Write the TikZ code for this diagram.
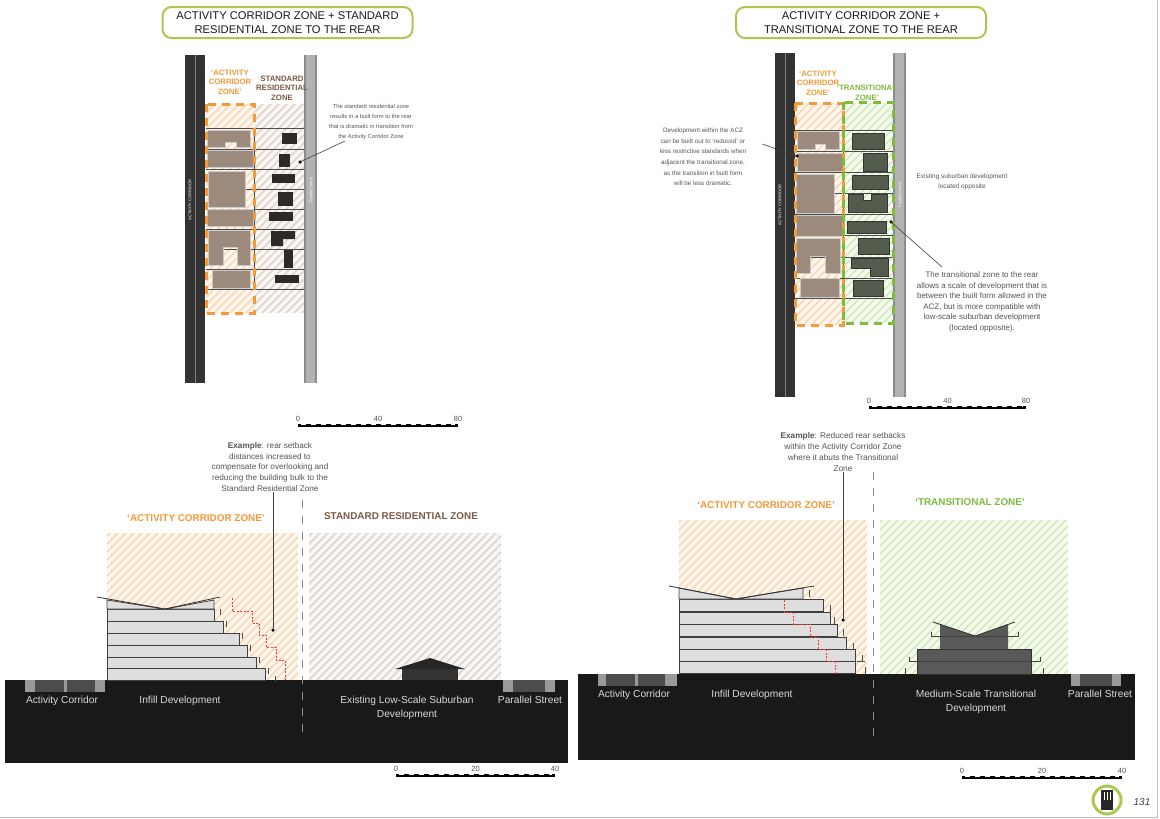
\documentclass[tikz,border=0pt]{standalone}
\usepackage{fontspec}
\setmainfont{Liberation Sans}
\definecolor{ora}{HTML}{F39A3A}
\definecolor{orah}{HTML}{F9D2AA}
\definecolor{orabg}{HTML}{FEF5EC}
\definecolor{grh}{HTML}{D8CEC6}
\definecolor{grbg}{HTML}{F8F5F2}
\definecolor{grn}{HTML}{7DBB3C}
\definecolor{grnh}{HTML}{CDE6B0}
\definecolor{grnbg}{HTML}{F5FAEF}
\definecolor{titleg}{HTML}{A9C84E}
\definecolor{brn}{HTML}{7B5A45}
\definecolor{bldg}{HTML}{9C8B7C}
\definecolor{dkb}{HTML}{2E2A28}
\definecolor{gbld}{HTML}{535B4C}
\definecolor{txt}{HTML}{555555}
\newcommand\hatchrect[6]{%
\begin{scope}
\clip (#1,#2) rectangle (#3,#4);
\fill[#6] (#1,#2) rectangle (#3,#4);
\foreach \k in {-400,-392,...,400} \draw[#5,line width=1.3pt] (#1+\k,#4) -- ++(450,-450);
\end{scope}}
\newcommand\scalebar[5]{% x1 x2 y lab-mid lab-end
\draw[line width=3pt] (#1,#3) -- (#2,#3);
\draw[white,line width=1pt,dash pattern=on 5pt off 5pt] (#1+3,#3-0.8) -- (#2-3,#3-0.8);
\node[lab,anchor=south] at (#1,#3-2) {0};
\node[lab,anchor=south] at ({(#1+#2)/2},#3-2) {#4};
\node[lab,anchor=south] at (#2,#3-2) {#5};}
\tikzset{
 lab/.style={font=\fontsize{7.5}{8}\selectfont,text=txt,inner sep=1pt},
 ann/.style={font=\fontsize{6.5}{10.6}\selectfont,text=txt,align=center,inner sep=0pt},
 zonelab/.style={font=\bfseries\fontsize{7.8}{9.5}\selectfont,align=center,inner sep=0pt},
 seclab/.style={font=\bfseries\fontsize{9.9}{10}\selectfont,inner sep=0pt},
 groundlab/.style={font=\fontsize{10.2}{14}\selectfont,text=white!85!black,align=center,inner sep=0pt},
 titlebox/.style={draw=titleg,line width=2pt,rounded corners=9pt,fill=white,align=center,font=\fontsize{11.2}{13.5}\selectfont,text=black!90,minimum width=250pt,minimum height=31pt},
 ozone/.style={draw=ora,line width=3pt,dash pattern=on 8pt off 6pt},
 gzone/.style={draw=grn,line width=3pt,dash pattern=on 8pt off 6pt},
 lotline/.style={draw=black!70,line width=0.8pt},
 leader/.style={draw=black!75,line width=0.6pt},
 dotc/.style={circle,fill=black,inner sep=0pt,minimum size=3.5pt},
 floor/.style={fill=black!13,draw=black!75,line width=0.8pt},
 secdash/.style={draw=black!45,line width=1pt,dash pattern=on 8pt off 8pt},
 redstep/.style={draw=red!80,line width=0.7pt,dash pattern=on 2pt off 1.5pt},
}
\begin{document}
\begin{tikzpicture}[x=1pt,y=-1pt]
\useasboundingbox (0,0) rectangle (1160,819);
\fill[white] (0,0) rectangle (1160,819);
\draw[black!25] (0,817) -- (1157,817) -- (1157,0);

%================ LEFT PLAN
\node[titlebox] (t1) at (287.5,22.5) {ACTIVITY CORRIDOR ZONE + STANDARD\\RESIDENTIAL ZONE TO THE REAR};
\hatchrect{206}{104}{254}{313}{orah}{orabg}
\hatchrect{254}{104}{304}{313}{grh}{grbg}
\fill[black!80] (185,55) rectangle (205,383);
\draw[black!50,line width=0.5pt] (195,55) -- (195,383);
\node[rotate=90,font=\fontsize{4}{4}\selectfont,text=white] (acl) at (190,200) {ACTIVITY CORRIDOR};
\fill[black!45] (304,55) rectangle (317,383);
\fill[black!30] (306,55) rectangle (315,383);
\node[rotate=90,font=\fontsize{4}{4}\selectfont,text=white] (psl) at (311,190) {Parallel Street};
\foreach \y in {128,149,169,189,209,229,249,269,289} \draw[lotline] (206,\y) -- (304,\y);
\draw[lotline] (254,128) -- (254,289);
\begin{scope}[fill=bldg,draw=black!20,line width=0.4pt]
\filldraw (207,130) -- (250,130) -- (250,147) -- (236,147) -- (236,142) -- (225,142) -- (225,147) -- (207,147) -- cycle;
\filldraw (207,150) rectangle (253,167);
\filldraw (208,171) rectangle (245,207);
\filldraw (207,209) rectangle (253,226);
\filldraw (208,230) -- (250,230) -- (250,265) -- (237,265) -- (237,247) -- (223,247) -- (223,265) -- (208,265) -- cycle;
\filldraw (212,270) rectangle (250,288);
\end{scope}
\begin{scope}[fill=dkb]
\fill (282,133) rectangle (297,144);
\fill (279,154) rectangle (290,167);
\fill (272,174) rectangle (295,183);
\fill (278,192) rectangle (293,206);
\fill (269,212) rectangle (293,221);
\fill (271,231) -- (295,231) -- (295,239) -- (283,239) -- (283,246) -- (271,246) -- cycle;
\fill (284,250) rectangle (293,268);
\fill (275,275) rectangle (299,283);
\end{scope}
\draw[ozone] (206,104) rectangle (254,313);
\node[zonelab,text=ora] (l1a) at (230,82) {‘ACTIVITY\\CORRIDOR\\ZONE’};
\node[zonelab,text=brn] (l1b) at (282,88) {STANDARD\\RESIDENTIAL\\ZONE};
\node[ann,font=\fontsize{5.8}{10.2}\selectfont] (a1) at (371,122) {The standard residential zone\\results in a built form to the rear\\that is dramatic in transition from\\the Activity Corridor Zone};
\node[dotc] (d1) at (300,162) {};
\draw[leader] (345,141) -- (d1.center);
\scalebar{298}{458}{425}{40}{80}

%================ RIGHT PLAN
\node[titlebox] (t2) at (861,22.5) {ACTIVITY CORRIDOR ZONE +\\TRANSITIONAL ZONE TO THE REAR};
\hatchrect{795}{103}{843}{325}{orah}{orabg}
\hatchrect{843}{103}{893}{323}{grnh}{grnbg}
\fill[black!80] (775,53) rectangle (795,397);
\draw[black!50,line width=0.5pt] (785,53) -- (785,397);
\node[rotate=90,font=\fontsize{4}{4}\selectfont,text=white] (acr) at (780,205) {ACTIVITY CORRIDOR};
\fill[black!45] (893,53) rectangle (906,397);
\fill[black!30] (895,53) rectangle (904,397);
\node[rotate=90,font=\fontsize{4}{4}\selectfont,text=white] (psr) at (900,195) {Parallel Street};
\foreach \y in {130,151,172,193,214,235,257,278,298} \draw[lotline] (795,\y) -- (893,\y);
\draw[lotline] (843,130) -- (843,298);
\begin{scope}[fill=bldg,draw=black!20,line width=0.4pt]
\filldraw (797,131) -- (839,131) -- (839,149) -- (825,149) -- (825,144) -- (815,144) -- (815,149) -- (797,149) -- cycle;
\filldraw (797,153) rectangle (843,171);
\filldraw (796,174) rectangle (834,213);
\filldraw (796,215) rectangle (842,236);
\filldraw (796,238) -- (840,238) -- (840,273) -- (825,273) -- (825,256) -- (810,256) -- (810,273) -- (796,273) -- cycle;
\filldraw (800,278) rectangle (839,297);
\end{scope}
\begin{scope}[fill=gbld,draw=black!80,line width=0.5pt]
\filldraw (852,133) rectangle (884,149);
\filldraw (863,153) rectangle (887,171);
\filldraw (852,175) rectangle (888,189);
\filldraw (848,194) -- (863,194) -- (863,200) -- (871,200) -- (871,194) -- (887,194) -- (887,212) -- (848,212) -- cycle;
\filldraw (847,221) rectangle (886,233);
\filldraw (858,238) rectangle (889,254);
\filldraw (851,258) -- (888,258) -- (888,276) -- (870,276) -- (870,268) -- (851,268) -- cycle;
\filldraw (853,280) rectangle (883,296);
\end{scope}
\draw[ozone] (795,103) rectangle (843,325);
\draw[gzone] (843,102) rectangle (893,323);
\node[zonelab,text=ora] (r1a) at (818,83) {‘ACTIVITY\\CORRIDOR\\ZONE’};
\node[zonelab,text=grn] (r1b) at (867,93) {‘TRANSITIONAL\\ZONE’};
\node[ann,font=\fontsize{6.3}{10.6}\selectfont] (a2) at (703,157) {Development within the ACZ\\can be built out to ‘reduced’ or\\less restrictive standards when\\adjacent the transitional zone,\\as the transition in built form\\will be less dramatic.};
\node[dotc] (d2) at (797,156) {};
\draw[leader] (762,144) -- (d2.center);
\node[ann] (a3) at (962,182) {Existing suburban development\\located opposite};
\node[ann,font=\fontsize{8}{10.6}\selectfont] (a4) at (982,302) {The transitional zone to the rear\\allows a scale of development that is\\between the built form allowed in the\\ACZ, but is more compatible with\\low-scale suburban development\\(located opposite).};
\node[dotc] (d3) at (891,222) {};
\draw[leader] (942,267) -- (d3.center);
\scalebar{869}{1026}{407}{40}{80}

%================ LEFT SECTION
\hatchrect{107}{533}{298}{680}{orah}{orabg}
\hatchrect{309}{533}{501}{680}{grh}{grbg}
\fill[black!90] (5,680) rectangle (568,763);
\draw[secdash] (302,500) -- (302,740);
\foreach \t/\r in {609/214,621/223,633/239,645/247,657/256,668/265}
  \draw[floor] (107,\t) rectangle (\r,\t+12);
\draw[floor] (107,600) -- (165,609) -- (214,600) -- (214,609) -- (107,609) -- cycle;
\draw[black!80,line width=0.8pt] (97,597) -- (165,609) -- (220,597);
\foreach \x/\y in {220/609,226/621,242/633,250/645,259/657,268/668,275/676}
  \draw[black!70,line width=0.6pt] (\x,\y) -- (\x,\y+6);
\draw[redstep] (232,598) -- (232,611) -- (252,611) -- (252,623) -- (259,623) -- (259,635) -- (266,635) -- (266,647) -- (276,647) -- (276,660) -- (285,660) -- (285,680);
\fill[black!80] (402,668) rectangle (458,680);
\fill[black!85] (395,669) -- (430,658) -- (465,669) -- cycle;
\fill[black!40] (25,680) rectangle (105,692);
\fill[black!70] (35,680) rectangle (64,692);
\fill[black!70] (67,680) rectangle (95,692);
\fill[black!40] (503,680) rectangle (555,692);
\fill[black!70] (513,680) rectangle (545,692);
\node[seclab,text=ora] (s1a) at (196,518) {‘ACTIVITY CORRIDOR ZONE’};
\node[seclab,text=brn] (s1b) at (401,516) {STANDARD RESIDENTIAL ZONE};
\node[ann,font=\fontsize{8.2}{10.8}\selectfont] (e1) at (270,467) {\textbf{Example}: rear setback\\distances increased to\\compensate for overlooking and\\reducing the building bulk to the\\Standard Residential Zone};
\node[dotc] (d4) at (273,630) {};
\draw[leader] (e1.south -| d4) -- (d4.center);
\node[groundlab,anchor=north] (g1) at (62,696) {Activity Corridor};
\node[groundlab,anchor=north] (g2) at (180,696) {Infill Development};
\node[groundlab,anchor=north] (g3) at (407,696) {Existing Low-Scale Suburban\\Development};
\node[groundlab,anchor=north] (g4) at (530,696) {Parallel Street};
\scalebar{396}{555}{775}{20}{40}

%================ RIGHT SECTION
\hatchrect{679}{520}{867}{674}{orah}{orabg}
\hatchrect{880}{520}{1068}{674}{grnh}{grnbg}
\fill[black!90] (578,674) rectangle (1135,760);
\draw[secdash] (873,472) -- (873,740);
\foreach \t/\r in {599/823,612/830,624/837,637/846,649/855,661/855}
  \draw[floor] (679,\t) rectangle (\r,\t+12.5);
\draw[floor] (679,588) -- (736,599) -- (803,588) -- (803,599) -- (679,599) -- cycle;
\draw[black!80,line width=0.8pt] (669,586) -- (736,599) -- (814,586);
\foreach \x/\y in {809/590,830/605,834/617,843/629,853/643,862/655,865/667}
  \draw[black!70,line width=0.6pt] (\x,\y) -- (\x,\y+7);
\draw[black!70,line width=0.6pt] (857,661) -- (865,661);
\draw[redstep] (784,600) -- (784,612) -- (793,612) -- (793,624) -- (810,624) -- (810,637) -- (818,637) -- (818,649) -- (826,649) -- (826,661) -- (835,661) -- (835,674);
\fill[black!65] (917,649) rectangle (1031,674);
\draw[black!80,line width=0.5pt] (917,649) rectangle (1031,674);
\fill[black!65] (940,624) -- (975,636) -- (1008,624) -- (1008,649) -- (940,649) -- cycle;
\draw[black!80,line width=0.8pt] (933,622) -- (975,636) -- (1015,622);
\draw[black!75,line width=0.6pt] (931,632) -- (931,636) -- (1018,636) -- (1018,632);
\draw[black!75,line width=0.6pt] (909,657) -- (909,661) -- (1040,661) -- (1040,657);
\draw[black!75,line width=0.6pt] (905,668) -- (905,674) (1043,668) -- (1043,674);
\fill[black!40] (598,674) rectangle (677,686);
\fill[black!70] (606,674) rectangle (635,686);
\fill[black!70] (638,674) rectangle (665,686);
\fill[black!40] (1071,674) rectangle (1121,686);
\fill[black!70] (1080,674) rectangle (1112,686);
\node[seclab,text=ora] (s2a) at (766,505) {‘ACTIVITY CORRIDOR ZONE’};
\node[seclab,text=grn] (s2b) at (970,502) {‘TRANSITIONAL ZONE’};
\node[ann,font=\fontsize{8.3}{11}\selectfont] (e2) at (843,452) {\textbf{Example}: Reduced rear setbacks\\within the Activity Corridor Zone\\where it abuts the Transitional\\Zone};
\node[dotc] (d5) at (843,620) {};
\draw[leader] (e2.south -| d5) -- (d5.center);
\node[groundlab,anchor=north] (h1) at (634,690) {Activity Corridor};
\node[groundlab,anchor=north] (h2) at (752,690) {Infill Development};
\node[groundlab,anchor=north] (h3) at (976,690) {Medium-Scale Transitional\\Development};
\node[groundlab,anchor=north] (h4) at (1100,690) {Parallel Street};
\scalebar{962}{1122}{777}{20}{40}

\node[circle,draw=titleg,line width=3pt,minimum size=28pt,inner sep=0pt] (logo) at (1107,800) {};
\fill[black!85] (1101,790) rectangle (1113,810);
\foreach \x in {1104,1107,1110} \draw[white,line width=0.6pt] (\x,792) -- (\x,800);
\node[font=\itshape\fontsize{10}{10}\selectfont,text=black!75] (pg) at (1142,802) {131};
\end{tikzpicture}
\end{document}
